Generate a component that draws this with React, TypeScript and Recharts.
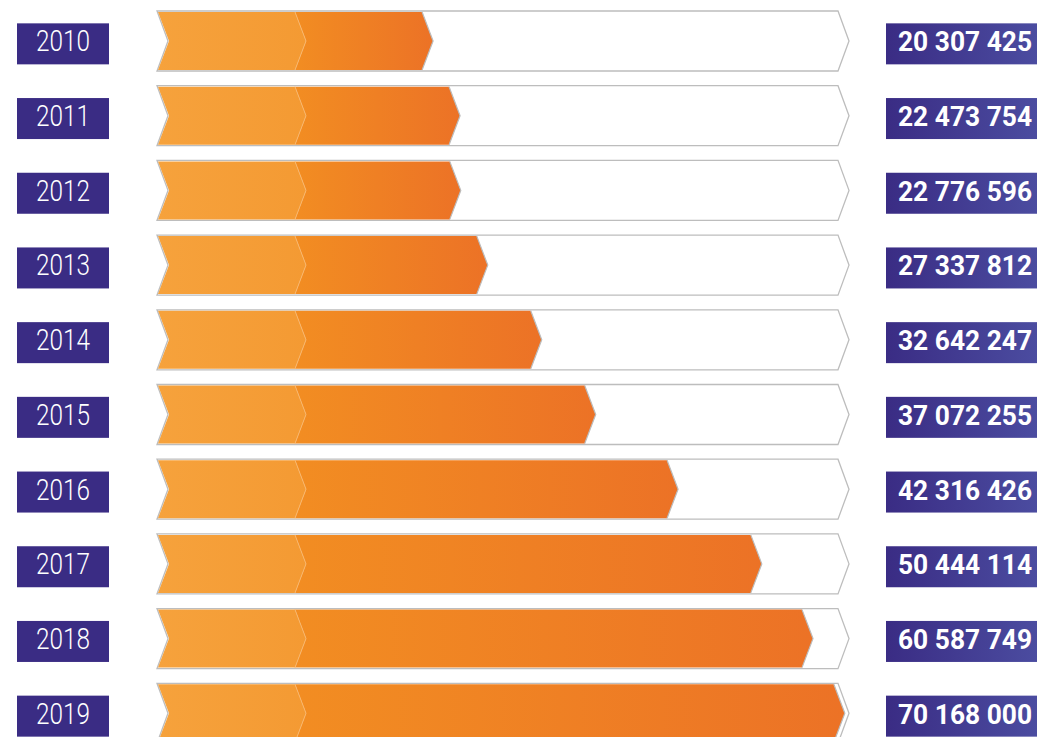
import { BarChart, Bar, XAxis, YAxis } from 'recharts'

const years = ['2010', '2011', '2012', '2013', '2014', '2015', '2016', '2017', '2018', '2019']
const totals = [20307425, 22473754, 22776596, 27337812, 32642247, 37072255, 42316426, 50444114, 60587749, 70168000]
// how far the orange arrow reaches along the track, in %
const fillShare = [39.9, 43.8, 43.9, 47.8, 55.6, 63.4, 75.3, 87.4, 94.8, 99.4]

const data = years.map((year, i) => ({ year, total: totals[i], share: fillShare[i] }))

const fmt = (n: number) => String(n).replace(/\B(?=(\d{3})+(?!\d))/g, ' ')

const TIP = 11
const FIRST = 138

function Track(props: any) {
  const { x, y, width, height } = props
  const cy = y + height / 2
  const r = x + width
  const pts = [
    [x, y], [r - TIP, y], [r, cy], [r - TIP, y + height], [x, y + height], [x + TIP, cy],
  ].map(p => p.join(',')).join(' ')
  return <polygon points={pts} fill="#fff" stroke="#bdbdbd" strokeWidth={1.3} />
}

function Arrow(props: any) {
  const { x, y, width, height } = props
  const t = y + 1
  const b = y + height - 1
  const cy = y + height / 2
  const tip = x + width
  const s = x + FIRST
  const seg1 = [[x + 1, t], [s, t], [s + TIP, cy], [s, b], [x + 1, b], [x + TIP + 1, cy]]
  const seg2 = [[s, t], [tip - TIP, t], [tip, cy], [tip - TIP, b], [s, b], [s + TIP, cy]]
  const p = (a: number[][]) => a.map(q => q.join(',')).join(' ')
  return (
    <g>
      <polygon points={p(seg1)} fill="url(#segA)" />
      <polygon points={p(seg2)} fill="url(#segB)" />
      <polyline points={p([[s, t], [s + TIP, cy], [s, b]])} fill="none" stroke="#f8b66c" strokeWidth={1} />
      <polyline points={p([[tip - TIP, t], [tip, cy], [tip - TIP, b]])} fill="none" stroke="#bcbcbc" strokeWidth={1.2} />
    </g>
  )
}

function YearTick(props: any) {
  const { y, payload } = props
  return (
    <g>
      <rect x={17} y={y - 18} width={92} height={41} fill="#3a2c84" />
      <text x={63} y={y + 10} textAnchor="middle" fill="#fff" fontFamily="Roboto" fontWeight={300}
        fontSize={29} textLength={54} lengthAdjust="spacingAndGlyphs">{payload.value}</text>
    </g>
  )
}

function TotalTick(props: any) {
  const { y, payload } = props
  return (
    <g>
      <rect x={886} y={y - 18} width={151} height={41} fill="url(#valBox)" />
      <text x={898} y={y + 10} fill="#fff" fontFamily="Roboto" fontWeight={700}
        fontSize={27} textLength={134} lengthAdjust="spacingAndGlyphs">{fmt(payload.value)}</text>
    </g>
  )
}

export default function App() {
  return (
    <div style={{ position: 'absolute', left: 0, top: 0, width: 1037, height: 737, overflow: 'hidden', background: '#fff' }}>
      <BarChart width={1037} height={751} data={data} layout="vertical"
        margin={{ top: 4, right: 0, bottom: 0, left: 0 }}>
        <defs>
          <linearGradient id="segA" x1="0" y1="0" x2="1" y2="0">
            <stop offset="0%" stopColor="#f6a23c" />
            <stop offset="100%" stopColor="#f49a33" />
          </linearGradient>
          <linearGradient id="segB" x1="0" y1="0" x2="1" y2="0">
            <stop offset="0%" stopColor="#f28d22" />
            <stop offset="100%" stopColor="#ec7226" />
          </linearGradient>
          <linearGradient id="valBox" x1="0" y1="0" x2="1" y2="0">
            <stop offset="0%" stopColor="#3a2c84" />
            <stop offset="100%" stopColor="#4b4ca0" />
          </linearGradient>
        </defs>
        <XAxis type="number" domain={[0, 100]} hide />
        <YAxis yAxisId="l" type="category" dataKey="year" width={157} axisLine={false} tickLine={false}
          tick={<YearTick />} interval={0} />
        <YAxis yAxisId="r" orientation="right" type="category" dataKey="total" width={188} axisLine={false}
          tickLine={false} tick={<TotalTick />} interval={0} />
        <Bar yAxisId="l" dataKey="share" barSize={60} isAnimationActive={false}
          background={(p: any) => <Track key={p.index} {...p} />} shape={(p: any) => <Arrow {...p} />} />
      </BarChart>
    </div>
  )
}
